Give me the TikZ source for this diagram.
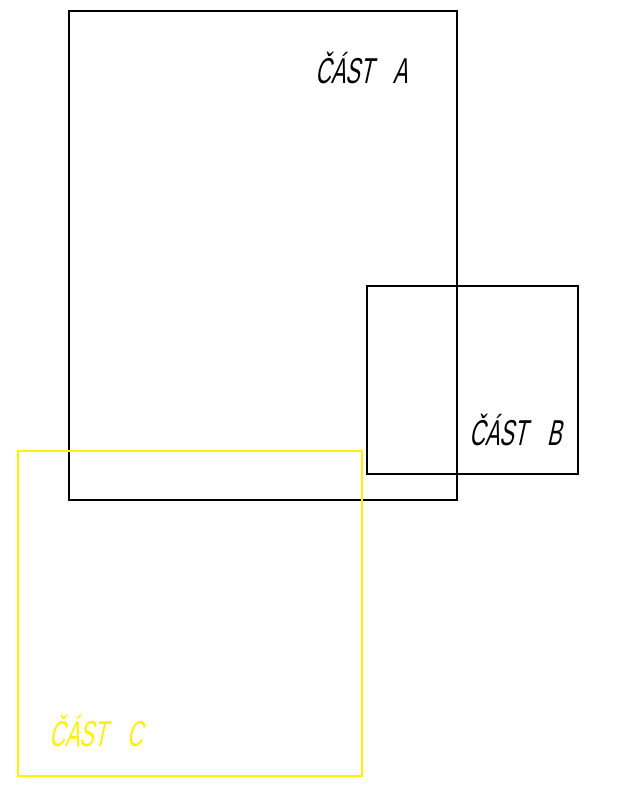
\documentclass[tikz,border=0pt]{standalone}
\usepackage{fontspec}
\newfontfamily\cadfont[FakeSlant=0.22,FakeStretch=0.6]{Liberation Sans}
\begin{document}
\begin{tikzpicture}[x=1pt,y=-1pt,
  frame/.style={line width=1.6pt},
  label/.style={anchor=base west,inner sep=0pt,font=\cadfont\fontsize{36}{38}\selectfont}]
\useasboundingbox (0,0) rectangle (619,788);
\draw[frame,black] (69,11) rectangle (457,500);
\draw[frame,black] (367,286) rectangle (578,474);
\draw[frame,yellow] (18,451) rectangle (362,776);
\node[label] (a) at (315,83) {ČÁST\hspace{20pt}A};
\node[label] (b) at (469,445) {ČÁST\hspace{20pt}B};
\node[label,text=yellow] (c) at (49,746) {ČÁST\hspace{20pt}C};
\end{tikzpicture}
\end{document}
